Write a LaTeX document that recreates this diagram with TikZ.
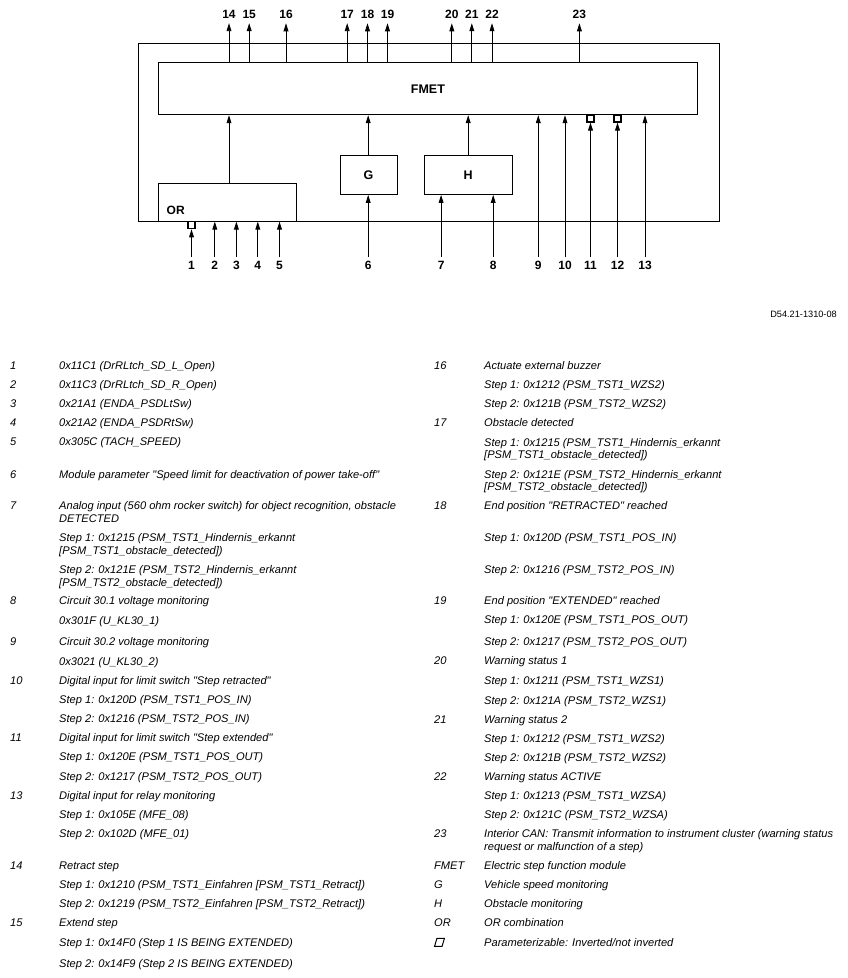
\documentclass[tikz,border=0pt]{standalone}
\usepackage{fontspec}
\setmainfont{Liberation Sans}[Ligatures=TeXOff]
\usetikzlibrary{arrows.meta}
\tikzset{
  box/.style={draw, line width=0.9pt, inner sep=0pt, anchor=north west, font=\fontsize{12.5}{14}\selectfont\bfseries},
  arr/.style={line width=0.85pt, -{Triangle[length=8pt,width=4.8pt]}},
  num/.style={font=\fontsize{12}{14}\selectfont\bfseries, inner sep=0pt},
  inv/.style={draw, line width=1.1pt, minimum width=7pt, minimum height=7pt, inner sep=0pt, fill=white},
  lgd/.style={font=\fontsize{11.1}{13}\selectfont\itshape, inner sep=0pt, anchor=base west},
}
\newcommand\Lg[4]{\node[lgd] (#1) at (#2,#3) {#4};}
\begin{document}
\begin{tikzpicture}[x=1pt,y=-1pt]
\fill[white] (0,0) rectangle (847,978);
\useasboundingbox (0,0) rectangle (847,978);

% boxes
\node[box, minimum width=581.6pt, minimum height=177.4pt] (outer) at (137.7,43.3) {};
\node[box, minimum width=539pt, minimum height=52pt] (fmet) at (158,62.3) {FMET};
\node[box, minimum width=137.8pt, minimum height=38.2pt] (orb) at (158,182.5) {};
\node[num, anchor=west] (orlbl) at (166.5,210) {OR};
\node[box, minimum width=57.1pt, minimum height=38.7pt] (g) at (339.6,155.3) {G};
\node[box, minimum width=88.5pt, minimum height=38.7pt] (h) at (423.5,155.3) {H};

% internal connections
\coordinate (pOR) at (229,182.5);
\coordinate (pG) at (368.2,155.3);
\coordinate (pH) at (468.2,155.3);
\draw[arr] (pOR) -- (pOR |- fmet.south);
\draw[arr] (pG) -- (pG |- fmet.south);
\draw[arr] (pH) -- (pH |- fmet.south);

% top outputs
\foreach \n/\x in {14/229,15/249.2,16/286,17/347.2,18/367.5,19/387.5,20/451.8,21/471.8,22/492,23/579.4}{
  \node[num] (t\n) at (\x,14.3) {\n};
  \draw[arr, shorten >=4.5pt] (t\n |- fmet.north) -- (t\n.south);
}

% inverter squares
\node[inv] (sq1) at (191.5,225.3) {};
\node[inv] (sq11) at (590.5,118.5) {};
\node[inv] (sq12) at (617.5,118.5) {};

% bottom inputs
\foreach \n/\x in {1/191.5,2/214.8,3/236.4,4/257.8,5/279.5,6/368.2,7/441.1,8/493.2,9/538.3,10/565,11/590.5,12/617.5,13/645}{
  \node[num] (b\n) at (\x,265) {\n};
}
\draw[arr, shorten <=3.5pt] (b1.north) -- (sq1.south);
\foreach \n in {2,3,4,5}{\draw[arr, shorten <=3.5pt] (b\n.north) -- (b\n |- orb.south);}
\draw[arr, shorten <=3.5pt] (b6.north) -- (b6 |- g.south);
\foreach \n in {7,8}{\draw[arr, shorten <=3.5pt] (b\n.north) -- (b\n |- h.south);}
\foreach \n in {9,10,13}{\draw[arr, shorten <=3.5pt] (b\n.north) -- (b\n |- fmet.south);}
\draw[arr, shorten <=3.5pt] (b11.north) -- (sq11.south);
\draw[arr, shorten <=3.5pt] (b12.north) -- (sq12.south);

% drawing code
\node[font=\fontsize{9.2}{11}\selectfont, anchor=east, inner sep=0pt] (code) at (837,314.5) {D54.21-1310-08};

% legend, left column
\Lg{k1}{10}{369}{1}\Lg{d1}{59}{369}{0x11C1 (DrRLtch\_SD\_L\_Open)}
\Lg{k2}{10}{388}{2}\Lg{d2}{59}{388}{0x11C3 (DrRLtch\_SD\_R\_Open)}
\Lg{k3}{10}{407}{3}\Lg{d3}{59}{407}{0x21A1 (ENDA\_PSDLtSw)}
\Lg{k4}{10}{426}{4}\Lg{d4}{59}{426}{0x21A2 (ENDA\_PSDRtSw)}
\Lg{k5}{10}{445}{5}\Lg{d5}{59}{445}{0x305C (TACH\_SPEED)}
\Lg{k6}{10}{478}{6}\Lg{d6}{59}{478}{Module parameter "Speed limit for deactivation of power take-off"}
\Lg{k7}{10}{509}{7}\Lg{d7a}{59}{509}{Analog input (560 ohm rocker switch) for object recognition, obstacle}
\Lg{d7b}{59}{522}{DETECTED}
\Lg{d7c}{59}{541}{Step 1: 0x1215 (PSM\_TST1\_Hindernis\_erkannt}
\Lg{d7d}{59}{554}{[PSM\_TST1\_obstacle\_detected])}
\Lg{d7e}{59}{573}{Step 2: 0x121E (PSM\_TST2\_Hindernis\_erkannt}
\Lg{d7f}{59}{586}{[PSM\_TST2\_obstacle\_detected])}
\Lg{k8}{10}{604}{8}\Lg{d8a}{59}{604}{Circuit 30.1 voltage monitoring}
\Lg{d8b}{59}{624}{0x301F (U\_KL30\_1)}
\Lg{k9}{10}{645}{9}\Lg{d9a}{59}{645}{Circuit 30.2 voltage monitoring}
\Lg{d9b}{59}{665}{0x3021 (U\_KL30\_2)}
\Lg{k10}{10}{684}{10}\Lg{d10a}{59}{684}{Digital input for limit switch "Step retracted"}
\Lg{d10b}{59}{703}{Step 1: 0x120D (PSM\_TST1\_POS\_IN)}
\Lg{d10c}{59}{722}{Step 2: 0x1216 (PSM\_TST2\_POS\_IN)}
\Lg{k11}{10}{741}{11}\Lg{d11a}{59}{741}{Digital input for limit switch "Step extended"}
\Lg{d11b}{59}{760.5}{Step 1: 0x120E (PSM\_TST1\_POS\_OUT)}
\Lg{d11c}{59}{780}{Step 2: 0x1217 (PSM\_TST2\_POS\_OUT)}
\Lg{k13}{10}{799}{13}\Lg{d13a}{59}{799}{Digital input for relay monitoring}
\Lg{d13b}{59}{818}{Step 1: 0x105E (MFE\_08)}
\Lg{d13c}{59}{837}{Step 2: 0x102D (MFE\_01)}
\Lg{k14}{10}{869}{14}\Lg{d14a}{59}{869}{Retract step}
\Lg{d14b}{59}{888}{Step 1: 0x1210 (PSM\_TST1\_Einfahren [PSM\_TST1\_Retract])}
\Lg{d14c}{59}{907}{Step 2: 0x1219 (PSM\_TST2\_Einfahren [PSM\_TST2\_Retract])}
\Lg{k15}{10}{926}{15}\Lg{d15a}{59}{926}{Extend step}
\Lg{d15b}{59}{946}{Step 1: 0x14F0 (Step 1 IS BEING EXTENDED)}
\Lg{d15c}{59}{967}{Step 2: 0x14F9 (Step 2 IS BEING EXTENDED)}

% legend, right column
\Lg{k16}{434}{369}{16}\Lg{d16a}{484}{369}{Actuate external buzzer}
\Lg{d16b}{484}{388}{Step 1: 0x1212 (PSM\_TST1\_WZS2)}
\Lg{d16c}{484}{407}{Step 2: 0x121B (PSM\_TST2\_WZS2)}
\Lg{k17}{434}{426.5}{17}\Lg{d17a}{484}{426.5}{Obstacle detected}
\Lg{d17b}{484}{446}{Step 1: 0x1215 (PSM\_TST1\_Hindernis\_erkannt}
\Lg{d17c}{484}{458.5}{[PSM\_TST1\_obstacle\_detected])}
\Lg{d17d}{484}{478}{Step 2: 0x121E (PSM\_TST2\_Hindernis\_erkannt}
\Lg{d17e}{484}{490.5}{[PSM\_TST2\_obstacle\_detected])}
\Lg{k18}{434}{509}{18}\Lg{d18a}{484}{509}{End position "RETRACTED" reached}
\Lg{d18b}{484}{541}{Step 1: 0x120D (PSM\_TST1\_POS\_IN)}
\Lg{d18c}{484}{573}{Step 2: 0x1216 (PSM\_TST2\_POS\_IN)}
\Lg{k19}{434}{604}{19}\Lg{d19a}{484}{604}{End position "EXTENDED" reached}
\Lg{d19b}{484}{623.5}{Step 1: 0x120E (PSM\_TST1\_POS\_OUT)}
\Lg{d19c}{484}{645}{Step 2: 0x1217 (PSM\_TST2\_POS\_OUT)}
\Lg{k20}{434}{664.5}{20}\Lg{d20a}{484}{664.5}{Warning status 1}
\Lg{d20b}{484}{684.5}{Step 1: 0x1211 (PSM\_TST1\_WZS1)}
\Lg{d20c}{484}{704}{Step 2: 0x121A (PSM\_TST2\_WZS1)}
\Lg{k21}{434}{723}{21}\Lg{d21a}{484}{723}{Warning status 2}
\Lg{d21b}{484}{742}{Step 1: 0x1212 (PSM\_TST1\_WZS2)}
\Lg{d21c}{484}{761}{Step 2: 0x121B (PSM\_TST2\_WZS2)}
\Lg{k22}{434}{780}{22}\Lg{d22a}{484}{780}{Warning status ACTIVE}
\Lg{d22b}{484}{799}{Step 1: 0x1213 (PSM\_TST1\_WZSA)}
\Lg{d22c}{484}{818}{Step 2: 0x121C (PSM\_TST2\_WZSA)}
\Lg{k23}{434}{837}{23}\Lg{d23a}{484}{837}{Interior CAN: Transmit information to instrument cluster (warning status}
\Lg{d23b}{484}{850}{request or malfunction of a step)}
\Lg{kF}{434}{869}{FMET}\Lg{dF}{484}{869}{Electric step function module}
\Lg{kG}{434}{888}{G}\Lg{dG}{484}{888}{Vehicle speed monitoring}
\Lg{kH}{434}{907}{H}\Lg{dH}{484}{907}{Obstacle monitoring}
\Lg{kO}{434}{926}{OR}\Lg{dO}{484}{926}{OR combination}
\node[draw, line width=1pt, xslant=0.3, minimum width=7.5pt, minimum height=8pt, inner sep=0pt] (kS) at (439.5,942.3) {};
\Lg{dS}{484}{946}{Parameterizable: Inverted/not inverted}
\end{tikzpicture}
\end{document}
